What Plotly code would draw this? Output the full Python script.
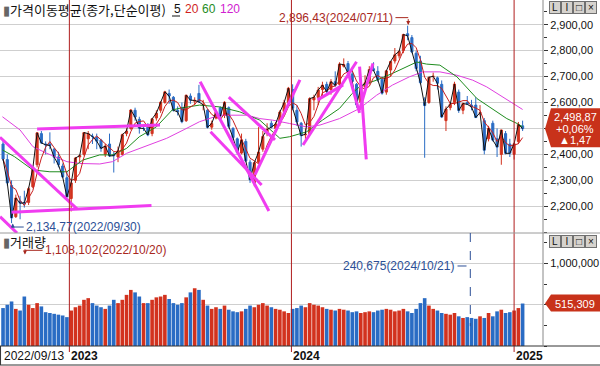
import pandas as pd
import plotly.graph_objects as go

# ---------------- data (weekly) ----------------
week_dates = pd.date_range("2022-09-14", periods=123, freq="7D")

opens = [2440,2380,2280,2160,2220,2215,2215,2275,2360,2480,2440,2440,2420,2390,2355,2310,
         2230,2300,2390,2400,2460,2470,2465,2455,2400,2440,2400,2390,2400,2480,2500,2570,2535,2500,2505,2480,2540,2570,2600,2635,2620,2570,
         2580,2530,2625,2605,2635,2590,2570,2505,2540,2580,2550,2580,2500,2460,2405,2450,2370,2290,2370,2420,2480,2520,2500,2520,2565,2600,
         2650,2570,2520,2475,2480,2610,2620,2650,2670,2650,2680,2670,2740,2750,2710,2670,2600,2660,2680,2730,2720,2690,2640,2725,2760,2780,
         2800,2865,2850,2790,2760,2600,2600,2700,2695,2670,2530,2580,2600,2640,2570,2600,2590,2590,2560,2530,2460,2520,2460,2400,2480,2440,
         2400,2450,2510]
highs = [2452,2400,2300,2245,2240,2260,2275,2350,2485,2490,2450,2485,2425,2410,2365,2335,
         2300,2390,2400,2485,2490,2480,2480,2460,2440,2480,2410,2430,2480,2500,2575,2580,2545,2510,2520,2540,2570,2605,2645,2650,2625,2585,
         2600,2630,2635,2620,2668,2610,2575,2530,2570,2585,2605,2585,2505,2465,2480,2460,2380,2370,2505,2490,2520,2530,2525,2570,2610,2660,
         2670,2590,2525,2500,2620,2630,2660,2680,2680,2690,2720,2755,2770,2760,2730,2675,2665,2705,2740,2755,2740,2700,2725,2760,2810,2800,
         2865,2896,2860,2800,2780,2620,2700,2715,2700,2685,2585,2600,2680,2650,2600,2625,2610,2620,2590,2540,2510,2530,2500,2495,2490,2460,
         2445,2525,2530]
lows = [2375,2280,2135,2155,2150,2195,2205,2270,2350,2440,2400,2420,2365,2350,2310,2235,
        2180,2290,2370,2395,2420,2440,2420,2410,2390,2390,2330,2370,2395,2470,2495,2530,2480,2490,2470,2470,2530,2560,2595,2595,2565,2550,
        2520,2525,2595,2590,2600,2570,2500,2495,2535,2540,2540,2500,2455,2400,2400,2370,2290,2277,2365,2410,2470,2500,2490,2510,2560,2595,
        2570,2510,2430,2460,2475,2570,2590,2620,2630,2630,2660,2650,2735,2700,2680,2580,2595,2650,2670,2720,2680,2630,2630,2700,2750,2770,
        2790,2840,2790,2720,2670,2387,2595,2680,2650,2540,2490,2570,2590,2560,2555,2590,2570,2540,2550,2400,2450,2450,2390,2360,2400,2390,
        2380,2440,2490]
closes = [2382,2290,2155,2232,2212,2213,2268,2348,2483,2444,2437,2434,2389,2360,2313,2236,
          2290,2386,2395,2484,2480,2469,2451,2423,2432,2394,2395,2414,2476,2490,2571,2544,2501,2500,2475,2537,2559,2601,2641,2625,2570,2564,
          2526,2628,2609,2608,2602,2591,2504,2519,2563,2547,2601,2508,2465,2408,2456,2375,2302,2368,2409,2469,2496,2505,2517,2563,2599,2655,
          2578,2525,2472,2478,2615,2620,2648,2667,2642,2680,2666,2748,2746,2714,2681,2591,2656,2676,2727,2724,2687,2636,2722,2758,2784,2797,
          2862,2857,2795,2731,2676,2588,2697,2701,2674,2544,2575,2593,2671,2569,2596,2593,2583,2542,2561,2416,2501,2455,2428,2494,2404,2404,
          2441,2515,2499]
volumes_k = [460,500,540,450,430,600,500,460,520,480,410,400,390,380,370,350,
             430,470,490,560,580,520,490,470,450,490,560,520,560,620,680,650,600,520,520,560,590,600,620,570,520,500,
             520,590,650,700,680,560,490,450,470,450,490,440,420,410,420,450,490,470,500,520,490,470,450,440,420,400,
             450,460,490,470,520,500,490,470,450,440,430,450,440,430,410,420,400,410,420,410,430,440,450,440,420,430,
             450,420,400,450,520,580,490,450,430,400,390,380,400,360,340,350,340,330,360,340,400,360,420,440,400,410,
             430,460,515]

ma60_dates = ["2022-09-13","2022-10-03","2022-11-02","2022-11-30","2022-12-28","2023-01-23","2023-02-20","2023-03-13",
              "2023-04-05","2023-04-26","2023-05-24","2023-06-19","2023-07-02","2023-08-03","2023-09-05","2023-10-08",
              "2023-11-10","2023-12-13","2023-12-29","2024-01-26","2024-02-21","2024-03-20","2024-04-10","2024-04-24",
              "2024-05-20","2024-06-15","2024-07-25","2024-08-10","2024-09-01","2024-09-29","2024-11-01","2024-11-28",
              "2024-12-20","2025-01-06","2025-01-15"]
ma60_vals = [2417,2391,2340,2333,2333,2378,2398,2398,2423,2468,2506,2571,2578,2590,2583,2564,
             2532,2462,2468,2487,2532,2577,2635,2665,2686,2712,2756,2748,2744,2699,2615,2571,2538,2519,2506]

ma120_dates = ["2022-09-13","2022-10-12","2022-11-02","2022-11-25","2022-12-28","2023-01-18","2023-02-20","2023-03-13",
               "2023-04-05","2023-05-13","2023-06-10","2023-07-10","2023-08-03","2023-09-05","2023-10-20","2023-11-10",
               "2023-12-01","2023-12-29","2024-01-26","2024-02-17","2024-03-20","2024-04-22","2024-05-20","2024-06-15",
               "2024-07-13","2024-08-04","2024-09-01","2024-09-29","2024-10-25","2024-11-17","2024-12-08","2024-12-30","2025-01-15"]
ma120_vals = [2545,2494,2430,2404,2372,2365,2363,2372,2404,2436,2462,2497,2526,2551,2551,2538,
              2532,2519,2506,2513,2538,2577,2628,2667,2699,2718,2718,2705,2686,2660,2628,2596,2573]

# hand-drawn trend lines: (start date, start price, end date, end price)
trend_lines = [
    ("2022-09-09", 2466, "2023-01-14", 2189),
    ("2022-09-28", 2177, "2023-05-16", 2203),
    ("2022-09-09", 2160, "2022-10-07", 2097),
    ("2022-11-09", 2498, "2023-05-30", 2513),
    ("2023-08-04", 2680, "2023-11-25", 2182),
    ("2023-08-21", 2487, "2023-11-13", 2282),
    ("2023-09-20", 2621, "2023-12-05", 2456),
    ("2023-11-02", 2321, "2024-01-15", 2687),
    ("2024-01-20", 2436, "2024-04-17", 2757),
    ("2024-02-13", 2610, "2024-03-26", 2668),
    ("2024-04-03", 2718, "2024-04-22", 2560),
    ("2024-04-22", 2738, "2024-05-03", 2381),
    ("2024-04-22", 2571, "2024-05-14", 2751),
]

year_starts = ["2023-01-01", "2024-01-01", "2025-01-01"]
price_ticks = [2200, 2300, 2400, 2500, 2600, 2700, 2800, 2900]
price_labels = ["2,200,00", "2,300,00", "2,400,00", "", "2,600,00", "2,700,00", "2,800,00", "2,900,00"]
vol_ticks = [500000, 1000000]
vol_labels = ["", "1,000,000"]

last_price_lines = ["2,498,87", "+0,06%", "▲1,47"]
last_price_val = 2498.87
last_vol_val, last_vol_label = 515309, "515,309"

# ---------------- styling ----------------
RED = "#d2321e"
BLUE = "#2a6cc4"
DARKRED = "#a8281e"
NAVY = "#2c4f96"
GRID = "#cfcfcf"
FONT = "Liberation Sans"
KFONT = "Noto Sans CJK KR"

W, H = 600, 366
ML, MR, MT, MB = 0, 57, 0, 20
PW, PH = W - ML - MR, H - MT - MB
split = (PH - 233) / PH
XR = W / PW


def px_x(px):
    return px / PW


def px_y(py):
    return (PH - py) / PH


fig = go.Figure()

vol_colors = [RED if c >= o else BLUE for o, c in zip(opens, closes)]
fig.add_trace(go.Bar(x=week_dates, y=[v * 1000 for v in volumes_k], marker_color=vol_colors,
                     marker_line_width=0, xaxis="x", yaxis="y2", showlegend=False))

fig.add_trace(go.Candlestick(x=week_dates, open=opens, high=highs, low=lows, close=closes,
                             increasing=dict(line=dict(color=RED, width=1), fillcolor=RED),
                             decreasing=dict(line=dict(color=BLUE, width=1), fillcolor=BLUE),
                             whiskerwidth=0, xaxis="x", yaxis="y", showlegend=False))

ma20 = pd.Series(closes).rolling(4, min_periods=1).mean()
fig.add_trace(go.Scatter(x=ma120_dates, y=ma120_vals, mode="lines", line=dict(color="#e040e0", width=1),
                         yaxis="y", showlegend=False))
fig.add_trace(go.Scatter(x=ma60_dates, y=ma60_vals, mode="lines", line=dict(color="#1e8c1e", width=1),
                         yaxis="y", showlegend=False))
fig.add_trace(go.Scatter(x=week_dates, y=ma20, mode="lines", line=dict(color="#c81e1e", width=1),
                         yaxis="y", showlegend=False))
fig.add_trace(go.Scatter(x=week_dates, y=closes, mode="lines", line=dict(color="#111111", width=1),
                         yaxis="y", showlegend=False))

shapes = []
for d0, p0, d1, p1 in trend_lines:
    shapes.append(dict(type="line", xref="x", yref="y", x0=d0, y0=p0, x1=d1, y1=p1,
                       line=dict(color="#f03cf0", width=3)))
for d in year_starts:
    shapes.append(dict(type="line", xref="x", yref="paper", x0=d, x1=d, y0=px_y(352), y1=1,
                       line=dict(color="#b01e1e", width=1)))
# panel divider and frame
shapes.append(dict(type="line", xref="paper", yref="paper", x0=0, x1=XR, y0=split, y1=split,
                   line=dict(color="#9a9a9a", width=1)))
shapes.append(dict(type="line", xref="paper", yref="paper", x0=0, x1=XR, y0=0, y1=0,
                   line=dict(color="#333", width=1)))
shapes.append(dict(type="line", xref="paper", yref="paper", x0=0, x1=XR, y0=px_y(365), y1=px_y(365),
                   line=dict(color="#333", width=1)))
shapes.append(dict(type="line", xref="paper", yref="paper", x0=1, x1=1, y0=0, y1=1,
                   line=dict(color="#888", width=1)))
shapes.append(dict(type="line", xref="paper", yref="paper", x0=0.001, x1=0.001, y0=px_y(365), y1=0,
                   line=dict(color="#333", width=1)))
# last price tag
pt = last_price_val + (128.5 - 108) * 3.853
pb = last_price_val - (147 - 128.5) * 3.853
shapes.append(dict(type="path", xref="paper", yref="y",
                   path=f"M {px_x(545)},{last_price_val} L {px_x(551)},{pt} L {XR},{pt} L {XR},{pb} L {px_x(551)},{pb} Z",
                   fillcolor="#c8321a", line=dict(width=0)))
vt, vb = last_vol_val + 9 / 82.5e-6, last_vol_val - 8 / 82.5e-6
shapes.append(dict(type="path", xref="paper", yref="y2",
                   path=f"M {px_x(545)},{last_vol_val} L {px_x(551)},{vt} L {XR},{vt} L {XR},{vb} L {px_x(551)},{vb} Z",
                   fillcolor="#c8321a", line=dict(width=0)))
# marker connectors
shapes.append(dict(type="line", xref="x", yref="y", x0="2024-06-20", x1="2024-07-11", y0=2927, y1=2927,
                   line=dict(color=DARKRED, width=1)))
shapes.append(dict(type="line", xref="x", yref="y", x0="2022-09-30", x1="2022-10-18", y0=2120, y1=2120,
                   line=dict(color=NAVY, width=1)))
shapes.append(dict(type="line", xref="x", yref="y2", x0="2022-10-20", x1="2022-11-18", y0=1160000, y1=1160000,
                   line=dict(color=DARKRED, width=1)))
shapes.append(dict(type="line", xref="x", yref="y2", x0="2024-09-30", x1="2024-10-21", y0=970000, y1=970000,
                   line=dict(color=NAVY, width=1, dash="dash")))
shapes.append(dict(type="line", xref="x", yref="y2", x0="2024-10-21", x1="2024-10-21", y0=1370000, y1=240675,
                   line=dict(color=NAVY, width=1, dash="dash")))
# underline under "5"
shapes.append(dict(type="line", xref="paper", yref="paper", x0=px_x(172), x1=px_x(180), y0=px_y(16), y1=px_y(16),
                   line=dict(color="#111", width=1)))

ann = []
ann.append(dict(xref="paper", yref="paper", x=px_x(1), y=px_y(9), xanchor="left", yanchor="middle", showarrow=False,
                text="<span style='color:#666'>▮</span>가격이동평균(종가,단순이평)",
                font=dict(family=KFONT, size=13, color="#111")))
for txt, col, px in [("5", "#111", 172), ("20", "#d01e1e", 183), ("60", "#1e8c1e", 200), ("120", "#d020d0", 218)]:
    ann.append(dict(xref="paper", yref="paper", x=px_x(px), y=px_y(9), xanchor="left", yanchor="middle",
                    showarrow=False, text=txt, font=dict(family=FONT, size=12, color=col)))
ann.append(dict(xref="paper", yref="paper", x=px_x(1), y=px_y(242), xanchor="left", yanchor="middle", showarrow=False,
                text="<span style='color:#666'>▮</span>거래량", font=dict(family=KFONT, size=13, color="#111")))
ann.append(dict(xref="x", yref="y", x="2024-06-19", y=2927, xanchor="right", yanchor="middle", showarrow=False,
                text="2,896,43(2024/07/11)", font=dict(family=FONT, size=12, color=DARKRED)))
ann.append(dict(xref="x", yref="y", x="2024-07-11", y=2899, ax="2024-07-11", ay=2927, axref="x", ayref="y",
                showarrow=True, arrowhead=2, arrowsize=0.8, arrowwidth=1, arrowcolor=DARKRED, text=""))
ann.append(dict(xref="x", yref="y", x="2022-10-18", y=2120, xanchor="left", yanchor="middle", showarrow=False,
                text="2,134,77(2022/09/30)", font=dict(family=FONT, size=12, color=NAVY)))
ann.append(dict(xref="x", yref="y", x="2022-09-30", y=2134, ax="2022-09-30", ay=2112, axref="x", ayref="y",
                showarrow=True, arrowhead=2, arrowsize=0.8, arrowwidth=1, arrowcolor=NAVY, text=""))
ann.append(dict(xref="x", yref="y2", x="2022-11-18", y=1160000, xanchor="left", yanchor="middle", showarrow=False,
                text="1,108,102(2022/10/20)", font=dict(family=FONT, size=12, color=DARKRED)))
ann.append(dict(xref="x", yref="y2", x="2022-10-20", y=1108102, ax="2022-10-20", ay=1190000, axref="x", ayref="y2",
                showarrow=True, arrowhead=2, arrowsize=0.8, arrowwidth=1, arrowcolor=DARKRED, text=""))
ann.append(dict(xref="x", yref="y2", x="2024-09-28", y=970000, xanchor="right", yanchor="middle", showarrow=False,
                text="240,675(2024/10/21)", font=dict(family=FONT, size=12, color=NAVY)))
for i, (txt, py) in enumerate(zip(last_price_lines, [117, 128.5, 140])):
    ann.append(dict(xref="paper", yref="paper", x=px_x(575), y=px_y(py), xanchor="center", yanchor="middle",
                    showarrow=False, text=txt, font=dict(family=FONT, size=11, color="white")))
ann.append(dict(xref="paper", yref="y2", x=px_x(575), y=last_vol_val, xanchor="center", yanchor="middle",
                showarrow=False, text=last_vol_label, font=dict(family=FONT, size=11, color="white")))
# x labels
ann.append(dict(xref="x", yref="paper", x=week_dates[0] - pd.Timedelta(days=2), y=px_y(356), xanchor="left",
                yanchor="middle", showarrow=False, text="2022/09/13", font=dict(family=FONT, size=12, color="#111")))
for d in year_starts:
    ann.append(dict(xref="x", yref="paper", x=d, y=px_y(356), xanchor="left", yanchor="middle", showarrow=False,
                    text=f"<b>{d[:4]}</b>", font=dict(family=FONT, size=12, color="#111")))
# little panel buttons
for py in (8, 241):
    for i, ch in enumerate(["L", "I", "□", "×"]):
        ann.append(dict(xref="paper", yref="paper", x=px_x(555 + 12 * i), y=px_y(py), xanchor="center",
                        yanchor="middle", showarrow=False, text=ch, bgcolor="#d6d3ce", bordercolor="#707070",
                        borderwidth=1, borderpad=0, width=10, height=11,
                        font=dict(family=FONT, size=10, color="#111")))

fig.update_layout(
    width=W, height=H, margin=dict(l=ML, r=MR, t=MT, b=MB, pad=0, autoexpand=False),
    paper_bgcolor="white", plot_bgcolor="white", showlegend=False, bargap=0.15,
    shapes=shapes, annotations=ann,
    xaxis=dict(type="date", range=["2022-09-09", "2025-02-17 12:00"], anchor="y2", showgrid=False,
               showticklabels=False, ticks="", rangeslider=dict(visible=False), showline=False, zeroline=False,
               automargin=False),
    yaxis=dict(domain=[split, 1], range=[2097, 2995], side="right", anchor="x", tickmode="array",
               tickvals=price_ticks, ticktext=price_labels, showgrid=True, gridcolor=GRID, gridwidth=1,
               ticks="outside", ticklen=4, tickcolor="#333", zeroline=False, automargin=False,
               minor=dict(ticks="outside", ticklen=3, tickcolor="#333", dtick=50, tick0=2200, showgrid=False),
               tickfont=dict(family=FONT, size=11, color="#111")),
    yaxis2=dict(domain=[0, split], range=[0, 1370000], side="right", anchor="x", tickmode="array",
                tickvals=vol_ticks, ticktext=vol_labels, showgrid=True, gridcolor=GRID, gridwidth=1,
                ticks="outside", ticklen=4, tickcolor="#333", zeroline=False, automargin=False,
                minor=dict(ticks="outside", ticklen=3, tickcolor="#333", dtick=250000, tick0=0, showgrid=False),
                tickfont=dict(family=FONT, size=11, color="#111")),
)

fig.write_html("out.html", config={"displayModeBar": False},
               post_script="document.body.style.margin='0';document.body.style.overflow='hidden';")
